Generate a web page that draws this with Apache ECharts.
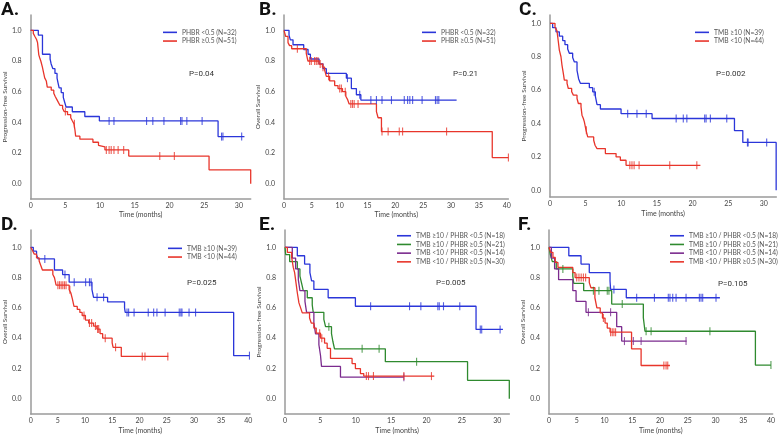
<!DOCTYPE html>
<html><head><meta charset="utf-8">
<script src="https://cdn.jsdelivr.net/npm/echarts@6/dist/echarts.min.js"></script>
<style>html,body{margin:0;padding:0;background:#fff}#c{width:778px;height:435px}</style>
</head><body><div id="c"></div>
<script>
// ---------- tick labels ----------
const X_TICKS_30 = [0, 5, 10, 15, 20, 25, 30];
const X_TICKS_40 = [0, 5, 10, 15, 20, 25, 30, 35, 40];
const Y_TICKS = [0, 0.2, 0.4, 0.6, 0.8, 1.0];

// ---------- legend names ----------
const NAMES_PHBR = ['PHBR <0.5 (N=32)', 'PHBR \u22650.5 (N=51)'];
const NAMES_TMB = ['TMB \u226510 (N=39)', 'TMB <10 (N=44)'];
const NAMES_COMBO = ['TMB \u226510 / PHBR <0.5 (N=18)', 'TMB \u226510 / PHBR \u22650.5 (N=21)', 'TMB <10 / PHBR <0.5 (N=14)', 'TMB <10 / PHBR \u22650.5 (N=30)'];
const P_VALUES = ['P=0.04', 'P=0.21', 'P=0.002', 'P=0.025', 'P=0.005', 'P=0.105'];

// ---------- A: PFS by PHBR ----------
const A_blue_t = [1.1, 1.7, 2.8, 2.95, 3.2, 3.5, 3.8, 3.95, 4.1, 4.4, 4.7, 4.9, 5.1, 6.0, 7.8, 9.9, 27.0];
const A_blue_s = [0.969, 0.844, 0.813, 0.781, 0.75, 0.719, 0.688, 0.656, 0.625, 0.594, 0.563, 0.531, 0.50, 0.469, 0.438, 0.409, 0.307];
const A_blue_c = [11.3, 12.0, 16.7, 17.6, 19.2, 21.6, 21.8, 22.5, 24.7, 27.5, 27.7, 30.4];
const A_blue_end = 30.8;
const A_red_t = [0.38, 0.61, 0.85, 0.99, 1.08, 1.17, 1.31, 1.46, 1.69, 1.88, 2.02, 2.25, 2.39, 2.96, 3.33, 3.52, 3.76, 3.99, 4.23, 4.6, 4.84, 5.31, 5.77, 6.0, 6.24, 6.38, 6.48, 7.09, 8.97, 9.77, 10.0, 10.7, 14.13, 25.7, 31.7];
const A_red_s = [0.98, 0.96, 0.94, 0.92, 0.88, 0.84, 0.82, 0.80, 0.76, 0.72, 0.69, 0.67, 0.63, 0.61, 0.59, 0.57, 0.55, 0.53, 0.51, 0.49, 0.47, 0.45, 0.43, 0.41, 0.39, 0.35, 0.31, 0.29, 0.27, 0.25, 0.24, 0.22, 0.18, 0.09, 0.0];
const A_red_c = [5.0, 6.3, 10.9, 11.3, 11.6, 12.0, 12.6, 13.4, 18.6, 20.7];
const A_red_end = 31.7;

// ---------- B: OS by PHBR ----------
const B_blue_t = [0.9, 1.14, 1.62, 3.54, 4.32, 4.74, 6.3, 7.0, 7.6, 11.2, 12.1, 13.0, 13.8];
const B_blue_s = [0.969, 0.938, 0.906, 0.875, 0.844, 0.813, 0.781, 0.75, 0.719, 0.688, 0.62, 0.58, 0.545];
const B_blue_c = [11.4, 13.6, 15.6, 16.6, 17.6, 19.3, 21.6, 22.2, 22.6, 23.1, 24.8, 27.2, 27.5, 27.8];
const B_blue_end = 31.0;
const B_red_t = [0.3, 0.72, 1.0, 1.38, 4.0, 4.3, 6.3, 6.9, 7.3, 7.6, 8.2, 9.1, 9.7, 10.5, 11.1, 11.4, 11.7, 16.6, 16.9, 17.5, 37.4];
const B_red_s = [0.96, 0.92, 0.90, 0.88, 0.85, 0.80, 0.78, 0.76, 0.74, 0.70, 0.67, 0.64, 0.62, 0.60, 0.57, 0.55, 0.52, 0.47, 0.43, 0.34, 0.17];
const B_red_c = [2.4, 4.6, 4.9, 5.5, 5.8, 6.1, 6.5, 7.0, 8.0, 10.0, 10.3, 11.0, 12.0, 12.3, 12.6, 13.3, 17.6, 18.7, 20.7, 21.3, 29.2, 40.3];
const B_red_end = 40.3;

// ---------- C: PFS by TMB ----------
const C_blue_t = [0.37, 0.84, 1.31, 1.78, 2.1, 2.48, 2.71, 3.18, 3.42, 3.79, 4.02, 4.26, 5.52, 5.99, 6.36, 6.6, 7.07, 9.97, 14.32, 25.88, 27.05, 31.73];
const C_blue_s = [0.974, 0.949, 0.923, 0.897, 0.872, 0.846, 0.821, 0.795, 0.769, 0.718, 0.667, 0.641, 0.615, 0.59, 0.564, 0.513, 0.487, 0.459, 0.43, 0.358, 0.287, 0.0];
const C_blue_c = [6.2, 10.9, 12.2, 13.5, 17.7, 18.7, 19.2, 21.7, 21.9, 22.5, 24.8, 27.7, 27.8, 30.4];
const C_blue_end = 31.73;
const C_red_t = [0.7, 0.98, 1.17, 1.31, 1.54, 1.68, 1.87, 2.01, 2.39, 2.57, 3.04, 3.28, 3.79, 3.98, 4.35, 4.49, 4.68, 4.82, 5.05, 5.29, 6.13, 6.32, 6.6, 7.77, 9.27, 9.87, 10.67];
const C_red_s = [0.977, 0.955, 0.89, 0.84, 0.80, 0.75, 0.70, 0.66, 0.64, 0.61, 0.59, 0.57, 0.55, 0.52, 0.50, 0.45, 0.43, 0.41, 0.36, 0.32, 0.30, 0.27, 0.25, 0.22, 0.20, 0.18, 0.15];
const C_red_c = [5.1, 11.2, 11.5, 11.8, 12.5, 16.8, 20.6];
const C_red_end = 21.1;

// ---------- D: OS by TMB ----------
const D_blue_t = [0.48, 1.08, 1.38, 4.37, 5.87, 7.07, 11.26, 11.56, 14.13, 17.25, 17.37, 37.3];
const D_blue_s = [0.974, 0.949, 0.923, 0.85, 0.82, 0.77, 0.72, 0.67, 0.64, 0.60, 0.57, 0.285];
const D_blue_c = [2.6, 6.3, 8.0, 10.1, 10.8, 11.1, 12.2, 13.4, 17.7, 18.0, 19.0, 21.6, 22.6, 23.2, 24.7, 27.3, 27.6, 27.8, 29.1, 30.3, 40.2];
const D_blue_end = 40.2;
const D_red_t = [0.36, 0.66, 1.08, 1.56, 1.86, 2.16, 4.07, 4.37, 4.67, 7.07, 7.37, 7.66, 7.96, 8.56, 9.04, 9.46, 10.06, 10.66, 11.56, 12.16, 12.75, 13.23, 14.97, 15.15, 16.65];
const D_red_s = [0.977, 0.955, 0.93, 0.91, 0.88, 0.85, 0.82, 0.80, 0.75, 0.72, 0.70, 0.66, 0.61, 0.59, 0.57, 0.55, 0.52, 0.50, 0.48, 0.46, 0.43, 0.40, 0.37, 0.34, 0.28];
const D_red_c = [5.0, 5.3, 5.6, 5.9, 6.2, 6.5, 7.2, 9.8, 10.8, 11.2, 11.9, 12.3, 12.5, 13.7, 15.6, 20.5, 21.0, 25.2];
const D_red_end = 25.3;

// ---------- E: PFS by TMB / PHBR ----------
const E_blue_t = [1.74, 2.77, 3.52, 3.76, 4.08, 6.1, 9.95, 27.0];
const E_blue_s = [0.944, 0.889, 0.833, 0.778, 0.722, 0.667, 0.611, 0.458];
const E_blue_c = [12.1, 17.6, 19.2, 21.6, 21.8, 22.4, 24.7, 27.6, 27.8, 30.4];
const E_blue_end = 30.8;
const E_green_t = [0.1, 0.66, 1.74, 2.11, 2.35, 2.58, 3.15, 3.85, 3.99, 5.49, 5.73, 6.57, 6.76, 7.0, 14.18, 25.8, 31.7];
const E_green_s = [0.952, 0.905, 0.857, 0.810, 0.762, 0.714, 0.667, 0.619, 0.571, 0.524, 0.476, 0.43, 0.38, 0.33, 0.245, 0.122, 0.0];
const E_green_c = [6.2, 10.9, 13.3, 18.6];
const E_green_end = 31.7;
const E_purple_t = [1.03, 1.5, 1.88, 2.11, 2.82, 3.05, 4.08, 4.32, 4.79, 5.02, 5.16, 7.84];
const E_purple_s = [0.929, 0.857, 0.786, 0.714, 0.643, 0.571, 0.50, 0.429, 0.357, 0.286, 0.214, 0.143];
const E_purple_c = [16.8];
const E_purple_end = 16.8;
const E_red_t = [0.33, 0.94, 1.17, 1.36, 1.55, 1.74, 1.97, 2.21, 2.44, 3.47, 3.71, 4.08, 4.41, 5.02, 5.59, 5.96, 6.43, 9.48, 9.95, 10.66, 11.13];
const E_red_s = [0.967, 0.933, 0.867, 0.833, 0.767, 0.70, 0.633, 0.60, 0.567, 0.533, 0.50, 0.467, 0.433, 0.40, 0.367, 0.333, 0.267, 0.233, 0.20, 0.167, 0.15];
const E_red_c = [4.9, 5.2, 11.5, 11.8, 12.5, 16.8, 20.7];
const E_red_end = 21.1;

// ---------- F: OS by TMB / PHBR ----------
const F_blue_t = [3.57, 5.77, 7.26, 11.0, 11.1, 13.93];
const F_blue_s = [0.944, 0.889, 0.833, 0.778, 0.722, 0.667];
const F_blue_c = [11.7, 15.8, 19.0, 21.5, 21.8, 22.3, 22.9, 24.7, 27.1, 27.4, 27.7, 30.1];
const F_blue_end = 30.8;
const F_green_t = [0.24, 0.6, 1.31, 4.29, 4.46, 6.25, 11.3, 17.0, 17.3, 37.2];
const F_green_s = [0.952, 0.905, 0.857, 0.81, 0.762, 0.714, 0.625, 0.536, 0.446, 0.223];
const F_green_c = [2.5, 8.0, 9.0, 10.5, 10.8, 13.2, 17.5, 18.4, 29.0, 40.0];
const F_green_end = 40.0;
const F_purple_t = [0.42, 1.01, 1.73, 4.29, 4.88, 6.67, 12.2, 13.1];
const F_purple_s = [0.929, 0.857, 0.786, 0.714, 0.643, 0.571, 0.476, 0.381];
const F_purple_c = [7.1, 11.1, 13.6, 15.2, 16.6, 24.7];
const F_purple_end = 24.8;
const F_red_t = [0.3, 0.71, 1.13, 1.61, 4.29, 4.7, 7.26, 7.56, 8.27, 8.63, 9.23, 9.64, 10.1, 10.5, 11.0, 14.88, 16.6];
const F_red_s = [0.967, 0.933, 0.90, 0.867, 0.833, 0.80, 0.767, 0.733, 0.667, 0.60, 0.567, 0.533, 0.50, 0.467, 0.44, 0.33, 0.22];
const F_red_c = [5.0, 5.4, 5.8, 6.2, 6.6, 9.8, 11.1, 11.4, 11.7, 12.0, 20.7, 21.1, 21.4];
const F_red_end = 21.8;

// ---------- styling ----------
const BLUE = '#2b36d9', RED = '#e8352b', GREEN = '#2f8a2f', PURPLE = '#7b2b8e';
const FONT = 'Lato';
const curve = (name, color, t, s, c, end) => ({ name, color, t, s, c, end });

const panels = [
  { letter: 'A.', yName: 'Progression-free Survival', xMax: 31.7, xTicks: X_TICKS_30, yMin: -0.1, yMax: 1.1,
    grid: { left: 26, top: 15, width: 224.7, height: 184 }, legend: { left: 163, top: 28 }, p: [189, 74], lp: [1, 1], nameGap: 12,
    curves: [curve(NAMES_PHBR[0], BLUE, A_blue_t, A_blue_s, A_blue_c, A_blue_end), curve(NAMES_PHBR[1], RED, A_red_t, A_red_s, A_red_c, A_red_end)] },
  { letter: 'B.', yName: 'Overall Survival', xMax: 40.3, xTicks: X_TICKS_40, yMin: -0.1, yMax: 1.1,
    grid: { left: 284, top: 15, width: 224.4, height: 184 }, legend: { left: 422, top: 28 }, p: [453, 74], lp: [259, 1], nameGap: 12,
    curves: [curve(NAMES_PHBR[0], BLUE, B_blue_t, B_blue_s, B_blue_c, B_blue_end), curve(NAMES_PHBR[1], RED, B_red_t, B_red_s, B_red_c, B_red_end)] },
  { letter: 'C.', yName: 'Progression-free Survival', xMax: 31.75, xTicks: X_TICKS_30, yMin: -0.04, yMax: 1.05,
    grid: { left: 550, top: 15, width: 226.3, height: 182 }, legend: { left: 695, top: 28 }, p: [716, 74], lp: [519, 1], nameGap: 13,
    curves: [curve(NAMES_TMB[0], BLUE, C_blue_t, C_blue_s, C_blue_c, C_blue_end), curve(NAMES_TMB[1], RED, C_red_t, C_red_s, C_red_c, C_red_end)] },
  { letter: 'D.', yName: 'Overall Survival', xMax: 40.3, xTicks: X_TICKS_40, yMin: -0.1, yMax: 1.114,
    grid: { left: 26, top: 230, width: 224, height: 184 }, legend: { left: 168, top: 244 }, p: [187, 283], lp: [1, 216], nameGap: 13,
    curves: [curve(NAMES_TMB[0], BLUE, D_blue_t, D_blue_s, D_blue_c, D_blue_end), curve(NAMES_TMB[1], RED, D_red_t, D_red_s, D_red_c, D_red_end)] },
  { letter: 'E.', yName: 'Progression-free Survival', xMax: 31.7, xTicks: X_TICKS_30, yMin: -0.1, yMax: 1.114,
    grid: { left: 285, top: 230, width: 224.3, height: 184 }, legend: { left: 397, top: 231.4 }, p: [436, 283], lp: [259, 216], nameGap: 13,
    curves: [curve(NAMES_COMBO[0], BLUE, E_blue_t, E_blue_s, E_blue_c, E_blue_end), curve(NAMES_COMBO[1], GREEN, E_green_t, E_green_s, E_green_c, E_green_end),
             curve(NAMES_COMBO[2], PURPLE, E_purple_t, E_purple_s, E_purple_c, E_purple_end), curve(NAMES_COMBO[3], RED, E_red_t, E_red_s, E_red_c, E_red_end)] },
  { letter: 'F.', yName: 'Overall Survival', xMax: 40.3, xTicks: X_TICKS_40, yMin: -0.1, yMax: 1.114,
    grid: { left: 549, top: 230, width: 225.7, height: 184 }, legend: { left: 670, top: 231.4 }, p: [718, 284], lp: [518, 216], nameGap: 13,
    curves: [curve(NAMES_COMBO[0], BLUE, F_blue_t, F_blue_s, F_blue_c, F_blue_end), curve(NAMES_COMBO[1], GREEN, F_green_t, F_green_s, F_green_c, F_green_end),
             curve(NAMES_COMBO[2], PURPLE, F_purple_t, F_purple_s, F_purple_c, F_purple_end), curve(NAMES_COMBO[3], RED, F_red_t, F_red_s, F_red_c, F_red_end)] }
];

function survAt(t, s, x) {
  let v = 1;
  for (let i = 0; i < t.length; i++) { if (t[i] <= x) v = s[i]; }
  return v;
}

const option = { animation: false, backgroundColor: '#fff', title: [], grid: [], xAxis: [], yAxis: [], legend: [], series: [], graphic: [] };
const axisLineStyle = { color: '#9a9a9a', width: 1.5 };

panels.forEach((p, i) => {
  option.grid.push(Object.assign({ containLabel: false }, p.grid));
  option.title.push({ text: p.letter, left: p.lp[0], top: p.lp[1], padding: 0,
    textStyle: { fontSize: 19, fontWeight: 'bold', color: '#111', fontFamily: 'Roboto' } });
  option.xAxis.push({
    type: 'value', gridIndex: i, min: 0, max: p.xMax,
    name: 'Time (months)', nameLocation: 'middle', nameGap: p.nameGap,
    nameTextStyle: { fontSize: 7, color: '#444', fontFamily: FONT, verticalAlign: 'top' },
    axisLine: { show: true, onZero: false, lineStyle: axisLineStyle },
    axisTick: { show: false }, splitLine: { show: false },
    axisLabel: { customValues: p.xTicks, fontSize: 7, color: '#444', fontFamily: FONT, margin: 3, showMinLabel: true, showMaxLabel: true }
  });
  option.yAxis.push({
    type: 'value', gridIndex: i, min: p.yMin, max: p.yMax,
    name: p.yName, nameLocation: 'middle', nameGap: 17, nameRotate: 90,
    nameTextStyle: { fontSize: 6.5, color: '#444', fontFamily: FONT },
    axisLine: { show: true, onZero: false, lineStyle: axisLineStyle },
    axisTick: { show: false }, splitLine: { show: false },
    axisLabel: { customValues: Y_TICKS, fontSize: 7, color: '#444', fontFamily: FONT, margin: 9, formatter: v => Number(v).toFixed(1) }
  });
  option.legend.push({
    left: p.legend.left, top: p.legend.top, orient: 'vertical', selectedMode: false, padding: 0,
    itemGap: 0, itemWidth: 14, itemHeight: 1.6, icon: 'rect',
    textStyle: { fontSize: 6.7, color: '#555', fontFamily: FONT, lineHeight: 8.7 },
    data: p.curves.map(c => c.name)
  });
  option.graphic.push({ type: 'text', x: p.p[0], y: p.p[1],
    style: { text: P_VALUES[i], fontSize: 8, fontFamily: 'Roboto', fill: '#333', verticalAlign: 'middle' } });
  p.curves.forEach(c => {
    const pts = [[0, 1]];
    c.t.forEach((tt, k) => pts.push([tt, c.s[k]]));
    const last = c.t[c.t.length - 1];
    if (c.end > last) pts.push([c.end, c.s[c.s.length - 1]]);
    option.series.push({
      type: 'line', name: c.name, xAxisIndex: i, yAxisIndex: i, step: 'end', showSymbol: false, symbol: 'none',
      data: pts, color: c.color, lineStyle: { color: c.color, width: 1.3 }, z: 2
    });
    option.series.push({
      type: 'scatter', name: c.name, xAxisIndex: i, yAxisIndex: i, symbol: 'rect', symbolSize: [1.1, 8],
      data: c.c.map(x => [x, survAt(c.t, c.s, x)]), itemStyle: { color: c.color }, z: 3, silent: true
    });
  });
});

const chart = echarts.init(document.getElementById('c'), null, { renderer: 'canvas' });
chart.setOption(option);
</script>
</body></html>
